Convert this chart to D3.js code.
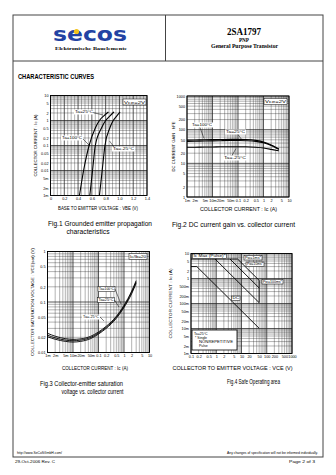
<!DOCTYPE html>
<html><head><meta charset="utf-8">
<script src="https://cdn.jsdelivr.net/npm/d3@7"></script>
<style>body{margin:0;background:#fff}svg{display:block}</style>
</head><body><svg id="c" width="336" height="475"></svg>
<script>
// ---------------- DATA ----------------
// Fig.1 Grounded emitter propagation characteristics (Vce=2V)
const fig1VbeTicks = [0, 0.2, 0.4, 0.6, 0.8, 1.0, 1.2, 1.4];
const fig1VbeLabels = ["0", "0.2", "0.4", "0.6", "0.8", "1.0", "1.2", "1.4"];
const fig1IcTicks = [10, 5, 2, 1, 0.5, 0.2, 0.1, 0.05, 0.02, 0.01, 0.005, 0.002, 0.001];
const fig1IcLabels = ["10", "5", "2", "1", "0.5", "0.2", "0.1", "0.05", "0.02", "0.01", "5m", "2m", "1m"];
const fig1Ic = [0.001, 0.01, 0.1, 0.5, 1, 1.5, 2.2];
const fig1Vbe100 = [0.42, 0.48, 0.56, 0.65, 0.71, 0.77, 0.84];
const fig1Vbe25 = [0.57, 0.61, 0.65, 0.74, 0.80, 0.86, 0.92];
const fig1VbeM25 = [0.71, 0.75, 0.79, 0.86, 0.91, 0.96, 1.01];

// Fig.2 DC current gain vs collector current (Vce=2V)
const fig2IcTicks = [0.001, 0.002, 0.005, 0.01, 0.02, 0.05, 0.1, 0.2, 0.5, 1, 2, 5, 10];
const fig2IcLabels = ["1m", "2m", "5m", "10m", "20m", "50m", "0.1", "0.2", "0.5", "1", "2", "5", "10"];
const fig2HfeTicks = [1000, 500, 200, 100, 50, 20, 10, 5, 2, 1];
const fig2HfeLabels = ["1000", "500", "200", "100", "50", "20", "10", "5", "2", "1"];
const fig2Ic = [0.001, 0.002, 0.005, 0.01, 0.02, 0.05, 0.1, 0.2, 0.5, 1, 2, 3, 4];
const fig2Hfe100 = [49, 49.5, 50, 50.5, 51, 51.5, 51.5, 51, 48, 43, 35, 30, 26.5];
const fig2Hfe25 = [45, 45.5, 46, 46.5, 47, 47.5, 47.5, 47, 45, 41, 34, 29, 26];
const fig2HfeM25 = [30, 30, 30.5, 30.5, 31, 31, 31, 31, 30, 28.5, 26, 24.5, 23.5];

// Fig.3 Collector-emitter saturation voltage vs collector current (Ic/Ib=20)
const fig3IcTicks = [0.001, 0.002, 0.005, 0.01, 0.02, 0.05, 0.1, 0.2, 0.5, 1, 2, 5, 10];
const fig3IcLabels = ["1m", "2m", "5m", "10m", "20m", "50m", "0.1", "0.2", "0.5", "1", "2", "5", "10"];
const fig3VTicks = [1, 0.5, 0.2, 0.1, 0.05, 0.02, 0.01];
const fig3VLabels = ["1", "0.5", "0.2", "0.1", "0.05", "0.02", "0.01"];
const fig3Ic = [0.001, 0.002, 0.005, 0.01, 0.02, 0.05, 0.1, 0.2, 0.5, 1, 2, 3];
const fig3V100 = [0.024, 0.021, 0.0188, 0.0182, 0.0186, 0.021, 0.0255, 0.033, 0.052, 0.086, 0.165, 0.265];
const fig3V25 = [0.022, 0.0195, 0.0176, 0.0171, 0.0176, 0.0199, 0.0243, 0.0315, 0.050, 0.082, 0.155, 0.25];
const fig3VM25 = [0.0205, 0.0183, 0.0166, 0.0161, 0.0166, 0.0189, 0.0232, 0.030, 0.0475, 0.078, 0.146, 0.235];

// Fig.4 Safe operating area
const fig4VTicks = [0.1, 0.2, 0.5, 1, 2, 5, 10, 20, 50, 100, 200, 500, 1000];
const fig4VLabels = ["0.1", "0.2", "0.5", "1", "2", "5", "10", "20", "50", "100", "200", "500", "1000"];
const fig4ITicks = [10, 5, 2, 1, 0.5, 0.2, 0.1, 0.05, 0.02, 0.01, 0.005, 0.002, 0.001];
const fig4ILabels = ["10", "5", "2", "1", "500m", "200m", "100m", "50m", "20m", "10m", "5m", "2m", "1m"];
const fig4PulseV = [0.1, 7];      const fig4PulseI = [6, 6];
const fig4DcV = [0.1, 0.17, 50];  const fig4DcI = [3, 3, 0.0102];
const fig4Pw100V = [0.9, 50];     const fig4Pw100I = [6, 0.108];
const fig4Pw10V = [3.5, 50];      const fig4Pw10I = [6, 0.42];
const fig4Pw1V = [7, 50];         const fig4Pw1I = [6, 0.84];
const fig4VceoV = [50, 50];       const fig4VceoI = [0.84, 0.108];

// ---------------- DRAWING ----------------
const FONT = '"Liberation Sans", Arial, sans-serif';
const SERIF = '"Liberation Serif", "Times New Roman", serif';
const svg = d3.select("#c");
svg.append("rect").attr("width", 336).attr("height", 475).attr("fill", "#fff");

function addText(x, y, s, o = {}) {
  const t = svg.append("text").attr("x", x).attr("y", y).text(s)
    .attr("font-size", o.size || 5).attr("font-family", o.family || FONT)
    .attr("fill", o.fill || "#000");
  if (o.weight) t.attr("font-weight", o.weight);
  if (o.anchor) t.attr("text-anchor", o.anchor);
  if (o.len) t.attr("textLength", o.len).attr("lengthAdjust", "spacingAndGlyphs");
  if (o.rotate) t.attr("transform", `rotate(-90,${x},${y})`);
  if (o.style) t.attr("font-style", o.style);
  return t;
}
function logGrid(lo, hi) {
  const out = [];
  for (let e = Math.floor(Math.log10(lo)); e <= Math.ceil(Math.log10(hi)); e++)
    for (let k = 1; k < 10; k++) {
      const v = k * Math.pow(10, e);
      if (v >= lo * 0.999 && v <= hi * 1.001) out.push(v);
    }
  return out;
}
const isDecade = d => Math.abs(Math.log10(d) - Math.round(Math.log10(d))) < 1e-6;

function chart(c) {
  const g = svg.append("g");
  const x = c.x.copy().range([c.x0, c.x1]);
  const y = c.y.copy().range([c.y1, c.y0]);
  g.append("rect").attr("x", c.x0).attr("y", c.y0).attr("width", c.x1 - c.x0).attr("height", c.y1 - c.y0).attr("fill", "#fff");
  g.selectAll(null).data(c.xGrid).join("line")
    .attr("x1", d => x(d)).attr("x2", d => x(d)).attr("y1", c.y0).attr("y2", c.y1)
    .attr("stroke", "#222").attr("stroke-width", d => c.xMajor(d) ? 0.75 : 0.35);
  g.selectAll(null).data(c.yGrid).join("line")
    .attr("y1", d => y(d)).attr("y2", d => y(d)).attr("x1", c.x0).attr("x2", c.x1)
    .attr("stroke", "#222").attr("stroke-width", d => c.yMajor(d) ? 0.75 : 0.35);
  g.append("rect").attr("x", c.x0).attr("y", c.y0).attr("width", c.x1 - c.x0).attr("height", c.y1 - c.y0)
    .attr("fill", "none").attr("stroke", "#000").attr("stroke-width", 0.9);
  const ax = g.append("g").attr("transform", `translate(0,${c.y1})`)
    .call(d3.axisBottom(x).tickValues(c.xTicks).tickFormat(d => c.xLabels[c.xTicks.indexOf(d)]).tickSize(0).tickPadding(2.2));
  ax.select(".domain").remove();
  ax.attr("font-size", 3.8).attr("font-family", FONT);
  const ay = g.append("g").attr("transform", `translate(${c.x0},0)`)
    .call(d3.axisLeft(y).tickValues(c.yTicks).tickFormat(d => c.yLabels[c.yTicks.indexOf(d)]).tickSize(0).tickPadding(2));
  ay.select(".domain").remove();
  ay.attr("font-size", 3.8).attr("font-family", FONT);
  return { x, y, g };
}
function curve(ch, xs, ys, w = 1.1, kind = d3.curveMonotoneX) {
  const pts = xs.map((v, i) => [v, ys[i]]);
  ch.g.append("path").datum(pts)
    .attr("d", d3.line().x(d => ch.x(d[0])).y(d => ch.y(d[1])).curve(kind))
    .attr("fill", "none").attr("stroke", "#000").attr("stroke-width", w);
}
function label(x, y, w, h, s, border, size = 3.8) {
  svg.append("rect").attr("x", x).attr("y", y).attr("width", w).attr("height", h)
    .attr("fill", "#fff").attr("stroke", border ? "#000" : "none").attr("stroke-width", 0.5);
  addText(x + w / 2, y + h - 1.1, s, { size, anchor: "middle", len: w - 2 });
}
function leader(x1, y1, x2, y2) {
  svg.append("line").attr("x1", x1).attr("y1", y1).attr("x2", x2).attr("y2", y2)
    .attr("stroke", "#000").attr("stroke-width", 0.5);
}

// ---- page frame ----
const frame = svg.append("g").attr("fill", "none").attr("stroke", "#444").attr("stroke-width", 1);
frame.append("rect").attr("x", 13).attr("y", 15).attr("width", 310).attr("height", 442);
frame.append("line").attr("x1", 13).attr("x2", 323).attr("y1", 61).attr("y2", 61);
frame.append("line").attr("x1", 165.5).attr("x2", 165.5).attr("y1", 15).attr("y2", 61);

// logo
addText(53, 41.3, "secos", { size: 20, weight: "bold", family: '"DejaVu Sans", sans-serif', fill: "#2343a3", len: 74 });
svg.append("circle").attr("cx", 76.5).attr("cy", 31.5).attr("r", 2.6).attr("fill", "#f2c21b");
addText(91, 50.3, "Elektronische Bauelemente", { size: 4.9, weight: "bold", family: SERIF, anchor: "middle", len: 72 });
addText(244, 35, "2SA1797", { size: 9.5, weight: "bold", family: SERIF, anchor: "middle", len: 34 });
addText(244, 41.5, "PNP", { size: 5.2, weight: "bold", family: SERIF, anchor: "middle" });
addText(244.5, 47.5, "General Purpose Transistor", { size: 5.4, weight: "bold", family: SERIF, anchor: "middle", len: 67 });

addText(18, 78.5, "CHARACTERISTIC CURVES", { size: 6.6, weight: "bold", len: 76 });

// ---- Fig 1 ----
const c1 = chart({
  x0: 50.5, x1: 147, y0: 95.5, y1: 195.5,
  x: d3.scaleLinear().domain([0, 1.4]), y: d3.scaleLog().domain([0.001, 10]),
  xGrid: d3.range(0, 1.4001, 0.05).map(v => +v.toFixed(2)), xMajor: d => Math.abs(d / 0.2 - Math.round(d / 0.2)) < 1e-6,
  yGrid: logGrid(0.001, 10), yMajor: isDecade,
  xTicks: fig1VbeTicks, xLabels: fig1VbeLabels, yTicks: fig1IcTicks, yLabels: fig1IcLabels
});
curve(c1, fig1Vbe100, fig1Ic);
curve(c1, fig1Vbe25, fig1Ic);
curve(c1, fig1VbeM25, fig1Ic);
label(123, 99, 23, 6, "Vce=2V", true);
label(74, 109.5, 20, 5, "Ta=25°C", false);
leader(93, 112.5, 103, 115);
label(61, 135.5, 22, 5, "Ta=100°C", false);
leader(83, 139, 90, 146);
label(112, 146.5, 23, 5, "Ta=-25°C", false);
leader(114, 147, 109.5, 141);
addText(37, 145.5, "COLLECTOR CURRENT : Ic (A)", { size: 4.3, anchor: "middle", rotate: true, len: 62 });
addText(98, 210, "BASE TO EMITTER VOLTAGE : VBE (V)", { size: 4.6, anchor: "middle", len: 80 });
addText(48, 226, "Fig.1  Grounded emitter propagation", { size: 7, len: 104 });
addText(66.5, 234, "characteristics", { size: 7, len: 43 });

// ---- Fig 2 ----
const c2 = chart({
  x0: 187, x1: 289, y0: 96, y1: 197,
  x: d3.scaleLog().domain([0.001, 10]), y: d3.scaleLog().domain([1, 1000]),
  xGrid: logGrid(0.001, 10), xMajor: isDecade, yGrid: logGrid(1, 1000), yMajor: isDecade,
  xTicks: fig2IcTicks, xLabels: fig2IcLabels, yTicks: fig2HfeTicks, yLabels: fig2HfeLabels
});
curve(c2, fig2Ic, fig2Hfe100);
curve(c2, fig2Ic, fig2Hfe25);
curve(c2, fig2Ic, fig2HfeM25);
label(264, 98.5, 23, 6, "Vce=2V", true);
label(191, 122.5, 22, 5, "Ta=100°C", false);
leader(200, 127.5, 204, 138.5);
label(225, 129.5, 21, 5, "Ta=25°C", false);
leader(238, 134.5, 242, 140);
label(223, 155.5, 24, 5, "Ta=-25°C", false);
leader(232, 155.5, 236, 148.5);
addText(175, 146.5, "DC CURRENT GAIN : hFE", { size: 4.3, anchor: "middle", rotate: true, len: 50 });
addText(238.5, 210.5, "COLLECTOR CURRENT : Ic (A)", { size: 4.8, anchor: "middle", len: 77 });
addText(172, 227, "Fig.2  DC current gain vs. collector current", { size: 7, len: 123 });

// ---- Fig 3 ----
const c3 = chart({
  x0: 47.5, x1: 149.5, y0: 251.5, y1: 352.5,
  x: d3.scaleLog().domain([0.001, 10]), y: d3.scaleLog().domain([0.01, 1]),
  xGrid: logGrid(0.001, 10), xMajor: isDecade, yGrid: logGrid(0.01, 1), yMajor: isDecade,
  xTicks: fig3IcTicks, xLabels: fig3IcLabels, yTicks: fig3VTicks, yLabels: fig3VLabels
});
curve(c3, fig3Ic, fig3V100, 0.9);
curve(c3, fig3Ic, fig3V25, 0.9);
curve(c3, fig3Ic, fig3VM25, 0.9);
label(129, 253.5, 18, 6, "Ic/Ib=20", true);
label(98, 286.5, 17, 5, "Ta=100°C", true);
leader(115, 289, 121, 304);
label(97.5, 297.5, 17, 5, "Ta=25°C", true);
leader(114.5, 300, 119, 307);
label(82, 314.5, 18, 5, "Ta=-25°C", false);
leader(100, 317, 104, 321);
addText(33.5, 302, "COLLECTOR SATURATION VOLTAGE : VCE(sat) (V)", { size: 4.3, anchor: "middle", rotate: true, len: 108 });
addText(95, 369.5, "COLLECTOR CURRENT : Ic (A)", { size: 4.8, anchor: "middle", len: 66 });
addText(40, 386, "Fig.3  Collector-emitter saturation", { size: 7, len: 83 });
addText(61.5, 393.5, "voltage vs. collector current", { size: 7, len: 62 });

// ---- Fig 4 ----
const c4 = chart({
  x0: 191, x1: 292, y0: 253.5, y1: 353.5,
  x: d3.scaleLog().domain([0.1, 1000]), y: d3.scaleLog().domain([0.001, 10]),
  xGrid: logGrid(0.1, 1000), xMajor: isDecade, yGrid: logGrid(0.001, 10), yMajor: isDecade,
  xTicks: fig4VTicks, xLabels: fig4VLabels, yTicks: fig4ITicks, yLabels: fig4ILabels
});
curve(c4, fig4PulseV, fig4PulseI, 0.9, d3.curveLinear);
curve(c4, fig4DcV, fig4DcI, 0.9, d3.curveLinear);
curve(c4, fig4Pw100V, fig4Pw100I, 0.9, d3.curveLinear);
curve(c4, fig4Pw10V, fig4Pw10I, 0.9, d3.curveLinear);
curve(c4, fig4Pw1V, fig4Pw1I, 0.9, d3.curveLinear);
curve(c4, fig4VceoV, fig4VceoI, 0.9, d3.curveLinear);
label(192.5, 254, 34, 4.5, "Ic Max (Pulse)*", true, 3.4);
label(244, 255.5, 18, 4.5, "Pw=1ms*", true, 3.4);
label(246, 262, 18, 4.5, "Pw=10ms*", true, 3.4);
label(262, 279.5, 21, 4.5, "Pw=100ms*", true, 3.4);
label(231.5, 296, 8.5, 4.5, "DC", true, 3.4);
// note box
svg.append("rect").attr("x", 192).attr("y", 330).attr("width", 45).attr("height", 20)
  .attr("fill", "#fff").attr("stroke", "#000").attr("stroke-width", 0.8);
addText(194, 334.5, "Ta=25°C", { size: 3.5 });
addText(195, 338.5, "* Single", { size: 3.5 });
addText(199, 342.8, "NONREPETITIVE", { size: 3.5, len: 34 });
addText(199, 347, "Pulse", { size: 3.5 });
addText(172, 303.5, "COLLECTOR CURRENT : Ic (A)", { size: 4.3, anchor: "middle", rotate: true, len: 70 });
addText(232.5, 369.5, "COLLECTOR TO EMITTER VOLTAGE : VCE (V)", { size: 4.8, anchor: "middle", len: 120 });
addText(227, 383.5, "Fig.4  Safe Operating area", { size: 7, len: 53 });

// ---- footer ----
addText(17, 453.5, "http://www.SeCoSGmbH.com/", { size: 3.3, len: 45 });
addText(318, 453.5, "Any changes of specification will not be informed individually.", { size: 3, anchor: "end", len: 91 });
addText(15, 462.5, "29-Oct-2006 Rev. C", { size: 4.2, len: 40 });
addText(315, 462.5, "Page 2 of 3", { size: 4.4, anchor: "end", len: 26 });
</script></body></html>
